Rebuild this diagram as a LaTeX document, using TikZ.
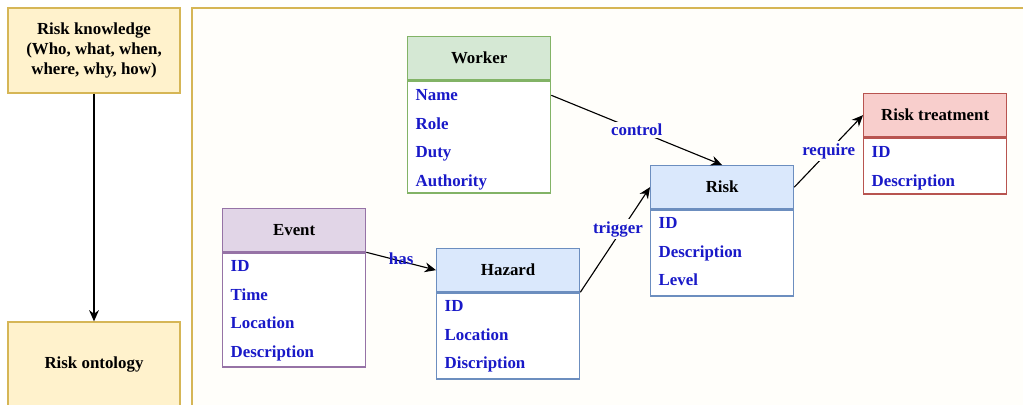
\documentclass[tikz,border=0pt]{standalone}
\usepackage{fontspec}
\setmainfont{Liberation Serif}
\usetikzlibrary{arrows.meta,positioning}

\definecolor{notefill}{HTML}{FFF2CC}
\definecolor{noteline}{HTML}{D6B656}
\definecolor{framefill}{HTML}{FFFEFA}
\definecolor{workerfill}{HTML}{D5E8D4}
\definecolor{workerline}{HTML}{82B366}
\definecolor{eventfill}{HTML}{E1D5E7}
\definecolor{eventline}{HTML}{9673A6}
\definecolor{riskfill}{HTML}{DAE8FC}
\definecolor{riskline}{HTML}{6C8EBF}
\definecolor{treatfill}{HTML}{F8CECC}
\definecolor{treatline}{HTML}{B85450}
\definecolor{attrblue}{RGB}{25,25,200}

\begin{document}
\begin{tikzpicture}[x=0.025cm, y=-0.025cm,
every node/.style={font=\bfseries\fontsize{12}{14.5}\selectfont, inner sep=1pt},
note/.style={draw=noteline, fill=notefill, line width=0.9pt, minimum width=4.3cm, align=center},
head/.style={draw, line width=0.9pt, minimum width=3.575cm, minimum height=1.075cm, anchor=north west},
body/.style={draw, fill=white, line width=0.9pt, minimum width=3.575cm, anchor=north west},
attr/.style={text=attrblue, anchor=west, text height=1.6ex, text depth=.45ex},
rel/.style={-{Stealth[length=8pt,width=7pt]}, line width=0.8pt},
lbl/.style={text=attrblue, fill=framefill, inner sep=1.5pt}
]
\useasboundingbox (0,0) rectangle (1023,404);
\clip (0,0) rectangle (1023,404);
\fill[white] (0,0) rectangle (1023,404);

% left column
\node[note, minimum height=2.125cm] (know) at (94,50.5) {Risk knowledge\\(Who, what, when,\\where, why, how)};
\node[note, minimum height=2.1cm] (onto) at (94,364) {Risk ontology};
\draw[rel] (know) -- (onto);

% ontology frame
\draw[noteline, fill=framefill, line width=0.9pt] (192,8) rectangle (1040,420);

% classes
\node[head, draw=workerline, fill=workerfill] (worker-h) at (407,36) {Worker};
\node[body, draw=workerline, minimum height=2.8cm] (worker-b) at (worker-h.south west) {};
\foreach \t [count=\i] in {Name,Role,Duty,Authority}
    \node[attr] (worker-\i) at (414,68.5+28.5*\i) {\t};

\node[head, draw=eventline, fill=eventfill] (event-h) at (222,208) {Event};
\node[body, draw=eventline, minimum height=2.85cm] (event-b) at (event-h.south west) {};
\foreach \t [count=\i] in {ID,Time,Location,Description}
    \node[attr] (event-\i) at (229,239.5+28.5*\i) {\t};

\node[head, draw=riskline, fill=riskfill] (hazard-h) at (436,248) {Hazard};
\node[body, draw=riskline, minimum height=2.15cm] (hazard-b) at (hazard-h.south west) {};
\foreach \t [count=\i] in {ID,Location,Discription}
    \node[attr] (hazard-\i) at (443,279.5+28.5*\i) {\t};

\node[head, draw=riskline, fill=riskfill] (risk-h) at (650,165) {Risk};
\node[body, draw=riskline, minimum height=2.15cm] (risk-b) at (risk-h.south west) {};
\foreach \t [count=\i] in {ID,Description,Level}
    \node[attr] (risk-\i) at (657,196.5+28.5*\i) {\t};

\node[head, draw=treatline, fill=treatfill] (treat-h) at (863,93) {Risk treatment};
\node[body, draw=treatline, minimum height=1.4cm] (treat-b) at (treat-h.south west) {};
\foreach \t [count=\i] in {ID,Description}
    \node[attr] (treat-\i) at (870,125.5+28.5*\i) {\t};

% relations
\draw[rel] ([yshift=-0.375cm]worker-b.north east) -- node[lbl] {control} (risk-h.north);
\draw[rel] (event-h.south east) -- node[lbl, fill=none, yshift=2pt] {has} (hazard-h.west);
\draw[rel] (hazard-h.south east) -- node[lbl, pos=0.6, xshift=-3pt] {trigger} (risk-h.west);
\draw[rel] (risk-h.east) -- node[lbl] {require} (treat-h.west);
\end{tikzpicture}
\end{document}
